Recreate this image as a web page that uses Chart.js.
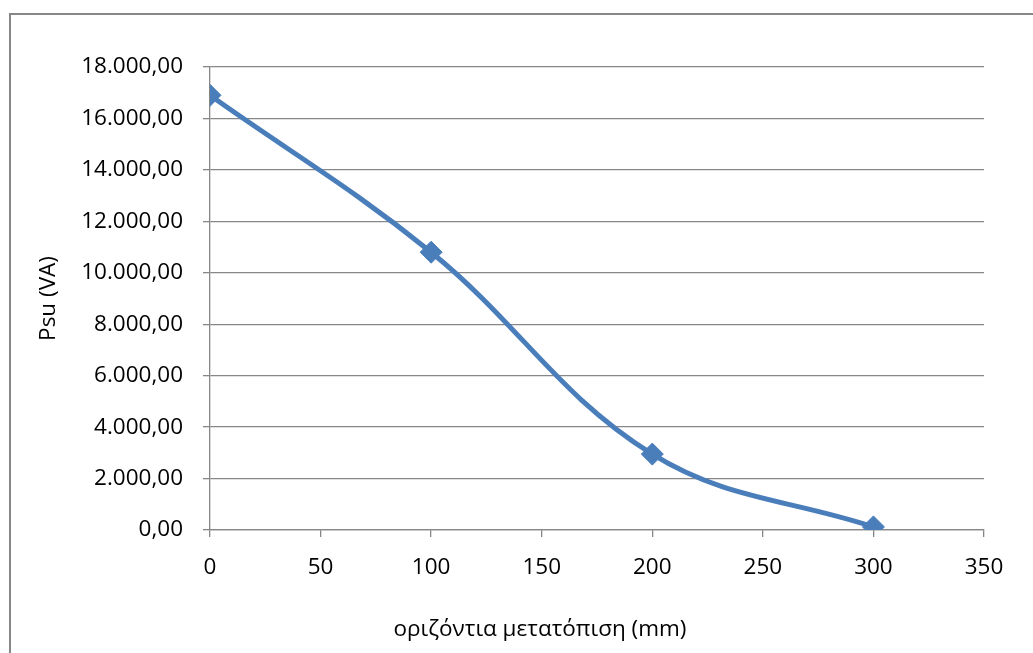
<!DOCTYPE html>
<html>
<head>
<meta charset="utf-8">
<title>Psu (VA)</title>
<script src="https://cdn.jsdelivr.net/npm/chart.js@4/dist/chart.umd.min.js"></script>
<style>
  html, body { margin: 0; padding: 0; background: #ffffff; }
  canvas { display: block; }
</style>
</head>
<body>
<canvas id="c" width="1033" height="653"></canvas>
<script>
// horizontal displacement (mm)
const displacement = [0, 100, 200, 300];
// Psu (VA)
const psu = [16900, 10800, 2950, 120];

const xTicks = { min: 0, max: 350, step: 50 };
const yTicks = { min: 0, max: 18000, step: 2000 };

const xTitle = 'οριζόντια μετατόπιση (mm)';
const yTitle = 'Psu (VA)';

const FONT = "'Open Sans', 'DejaVu Sans', sans-serif";
const FONT_SIZE = 22.5;
const GRAY = '#878787';
const BLUE = '#4a7ebb';

// 18000 -> "18.000,00"
function fmt(v) {
  const fixed = Math.abs(v).toFixed(2);
  let [intPart, dec] = fixed.split('.');
  intPart = intPart.replace(/\B(?=(\d{3})+(?!\d))/g, '.');
  return (v < 0 ? '-' : '') + intPart + ',' + dec;
}

// outer chart frame
const framePlugin = {
  id: 'frame',
  beforeDraw(chart) {
    const ctx = chart.ctx;
    ctx.save();
    ctx.fillStyle = '#ffffff';
    ctx.fillRect(0, 0, chart.width, chart.height);
    ctx.strokeStyle = GRAY;
    ctx.lineWidth = 2;
    ctx.strokeRect(10, 14, chart.width + 20, chart.height + 20);
    ctx.restore();
  }
};

// horizontal axis title, centred under the whole chart frame
const xTitlePlugin = {
  id: 'xTitle',
  afterDraw(chart) {
    const ctx = chart.ctx;
    ctx.save();
    ctx.fillStyle = '#000000';
    ctx.font = FONT_SIZE + 'px ' + FONT;
    ctx.textAlign = 'center';
    ctx.textBaseline = 'middle';
    ctx.fillText(xTitle, 540, 630);
    ctx.restore();
  }
};

new Chart(document.getElementById('c'), {
  type: 'scatter',
  data: {
    datasets: [{
      data: displacement.map((x, i) => ({ x: x, y: psu[i] })),
      showLine: true,
      borderColor: BLUE,
      backgroundColor: BLUE,
      borderWidth: 5,
      tension: 0.38,
      pointStyle: 'rectRot',
      pointRadius: 11,
      pointHoverRadius: 11,
      pointBorderWidth: 1,
      pointBorderColor: BLUE,
      pointBackgroundColor: BLUE
    }]
  },
  options: {
    responsive: false,
    animation: false,
    events: [],
    layout: { padding: { left: 0, right: 49, top: 67, bottom: 0 } },
    plugins: {
      legend: { display: false },
      tooltip: { enabled: false }
    },
    scales: {
      x: {
        type: 'linear',
        min: xTicks.min,
        max: xTicks.max,
        afterFit(scale) { scale.height = 123; },
        ticks: {
          stepSize: xTicks.step,
          color: '#000000',
          font: { family: FONT, size: FONT_SIZE },
          padding: 17,
          maxRotation: 0
        },
        grid: {
          drawOnChartArea: false,
          drawTicks: true,
          tickLength: 7,
          color: GRAY,
          lineWidth: 1.3
        },
        border: { display: true, color: GRAY, width: 1.3 },
        title: { display: false }
      },
      y: {
        type: 'linear',
        min: yTicks.min,
        max: yTicks.max,
        afterFit(scale) { scale.width = 210; },
        ticks: {
          stepSize: yTicks.step,
          color: '#000000',
          font: { family: FONT, size: FONT_SIZE },
          padding: 20,
          callback: v => fmt(v)
        },
        grid: {
          drawTicks: true,
          tickLength: 7,
          color: GRAY,
          lineWidth: 1.3
        },
        border: { display: true, color: GRAY, width: 1.3 },
        title: {
          display: true,
          text: yTitle,
          color: '#000000',
          font: { family: FONT, size: FONT_SIZE },
          padding: { top: 35, bottom: 0 }
        }
      }
    }
  },
  plugins: [framePlugin, xTitlePlugin]
});
</script>
</body>
</html>
